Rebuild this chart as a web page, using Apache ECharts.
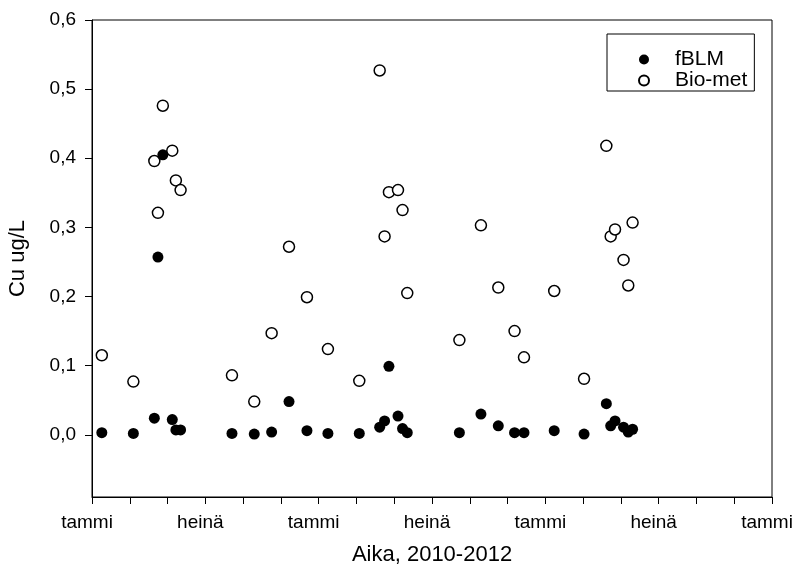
<!DOCTYPE html>
<html>
<head>
<meta charset="utf-8">
<script src="https://cdn.jsdelivr.net/npm/echarts@6/dist/echarts.min.js"></script>
<style>
  html, body { margin: 0; padding: 0; background: #fff; }
  #main { width: 795px; height: 575px; }
</style>
</head>
<body>
<div id="main"></div>
<script>
// kuukausia tammikuusta 2010 lähtien
var aika = [
  0.52, 2.19, 3.30, 3.49, 3.75, 4.25, 4.44, 4.69,
  7.41, 8.59, 9.51, 10.43, 11.38, 12.49, 14.15,
  15.23, 15.49, 15.72, 16.20, 16.44, 16.69,
  19.45, 20.59, 21.51, 22.37, 22.87, 24.47, 26.05,
  27.23, 27.46, 27.69, 28.14, 28.39, 28.62
];
var fBLM = [
  0.003, 0.002, 0.024, 0.257, 0.405, 0.022, 0.007, 0.007,
  0.002, 0.001, 0.004, 0.048, 0.006, 0.002, 0.002,
  0.011, 0.020, 0.099, 0.027, 0.009, 0.003,
  0.003, 0.030, 0.013, 0.003, 0.003, 0.006, 0.001,
  0.045, 0.013, 0.020, 0.011, 0.004, 0.008
];
var bioMet = [
  0.115, 0.077, 0.396, 0.321, 0.476, 0.411, 0.368, 0.354,
  0.086, 0.048, 0.147, 0.272, 0.199, 0.124, 0.078,
  0.527, 0.287, 0.351, 0.354, 0.325, 0.205,
  0.137, 0.303, 0.213, 0.150, 0.112, 0.208, 0.081,
  0.418, 0.287, 0.297, 0.253, 0.216, 0.307
];
// akselin jaotus 2 kk välein
var xTickLabels = ['tammi', '', '', 'heinä', '', '', 'tammi', '', '', 'heinä', '', '',
  'tammi', '', '', 'heinä', '', '', 'tammi'];
var yTicks = [0, 0.1, 0.2, 0.3, 0.4, 0.5, 0.6];

var chart = echarts.init(document.getElementById('main'));
var font = 'Liberation Sans, Arial, sans-serif';

function pairs(ys) {
  var out = [];
  for (var i = 0; i < aika.length; i++) {
    out.push([aika[i], ys[i]]);
  }
  return out;
}

var option = {
  animation: false,
  backgroundColor: '#fff',
  textStyle: { fontFamily: font, color: '#000' },
  grid: {
    left: 92,
    right: 23,
    top: 20,
    bottom: 78,
    outerBoundsMode: 'none',
    containLabel: false,
    show: true,
    borderColor: '#000',
    borderWidth: 1
  },
  legend: {
    orient: 'vertical',
    left: 607,
    top: 34,
    padding: [15, 7, 0, 31],
    itemWidth: 52,
    itemHeight: 10,
    itemGap: 0,
    borderColor: '#000',
    borderWidth: 1,
    textStyle: { fontFamily: font, fontSize: 21, color: '#000' },
    data: ['fBLM', 'Bio-met']
  },
  xAxis: {
    type: 'value',
    min: 0,
    max: 36,
    interval: 2,
    name: 'Aika, 2010-2012',
    nameLocation: 'middle',
    nameGap: 47,
    nameTextStyle: { fontFamily: font, fontSize: 22, color: '#000' },
    axisLine: { onZero: false, lineStyle: { color: '#000', width: 1 } },
    axisTick: { length: 7, lineStyle: { color: '#000' } },
    splitLine: { show: false },
    axisLabel: {
      fontFamily: font,
      fontSize: 19,
      color: '#000',
      margin: 16,
      padding: [0, 10, 0, 0],
      formatter: function (v) {
        return xTickLabels[Math.round(v / 2)] || '';
      }
    }
  },
  yAxis: {
    type: 'value',
    min: -0.09,
    max: 0.6,
    name: 'Cu ug/L',
    nameLocation: 'middle',
    nameGap: 63,
    nameTextStyle: { fontFamily: font, fontSize: 22, color: '#000' },
    axisLine: { show: true, onZero: false, lineStyle: { color: '#000', width: 1 } },
    axisTick: { show: true, length: 7, customValues: yTicks, lineStyle: { color: '#000' } },
    splitLine: { show: false },
    axisLabel: {
      fontFamily: font,
      fontSize: 19,
      color: '#000',
      margin: 16,
      customValues: yTicks,
      formatter: function (v) {
        return v.toFixed(1).replace('.', ',');
      }
    }
  },
  series: [
    {
      name: 'fBLM',
      type: 'scatter',
      symbol: 'circle',
      symbolSize: 11,
      z: 3,
      itemStyle: { color: '#000', opacity: 1 },
      data: pairs(fBLM)
    },
    {
      name: 'Bio-met',
      type: 'scatter',
      symbol: 'circle',
      symbolSize: 11,
      z: 2,
      itemStyle: { color: '#fff', borderColor: '#000', borderWidth: 1.5, opacity: 1 },
      data: pairs(bioMet)
    }
  ]
};

chart.setOption(option);
</script>
</body>
</html>
